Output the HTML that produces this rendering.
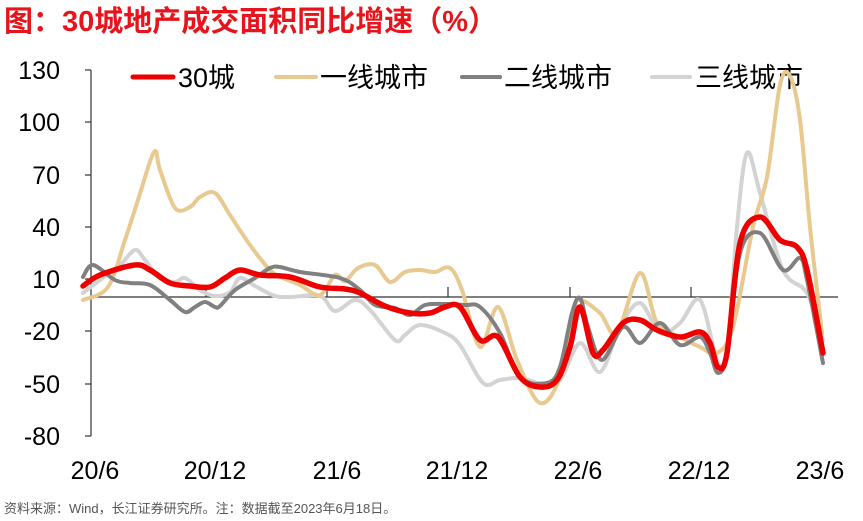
<!DOCTYPE html>
<html><head><meta charset="utf-8">
<style>
body{margin:0;width:863px;height:521px;background:#fff;overflow:hidden}
svg{display:block}
text{font-family:"Liberation Sans","Noto Sans CJK SC",sans-serif}
</style></head><body>
<svg id="s" width="863" height="521" viewBox="0 0 863 521">
<text x="4" y="31" font-size="29" font-weight="bold" fill="#e8141b">图：30城地产成交面积同比增速（%）</text>
<g font-size="25" fill="#000" text-anchor="end">
<text x="60" y="79">130</text><text x="60" y="131">100</text><text x="60" y="184">70</text>
<text x="60" y="236">40</text><text x="60" y="288">10</text><text x="60" y="340">-20</text>
<text x="60" y="393">-50</text><text x="60" y="445">-80</text>
</g>
<g stroke="#333" stroke-width="1.2">
<line x1="91" y1="70" x2="91" y2="436"/>
<line x1="91" y1="70" x2="85" y2="70"/><line x1="91" y1="122" x2="85" y2="122"/><line x1="91" y1="175" x2="85" y2="175"/><line x1="91" y1="227" x2="85" y2="227"/><line x1="91" y1="279" x2="85" y2="279"/><line x1="91" y1="331" x2="85" y2="331"/><line x1="91" y1="384" x2="85" y2="384"/><line x1="91" y1="436" x2="85" y2="436"/>
<line x1="91" y1="297" x2="838" y2="297"/>
<line x1="206" y1="297" x2="206" y2="287"/><line x1="327" y1="297" x2="327" y2="287"/><line x1="448" y1="297" x2="448" y2="287"/><line x1="570" y1="297" x2="570" y2="287"/><line x1="691" y1="297" x2="691" y2="287"/><line x1="812" y1="297" x2="812" y2="287"/>
</g>
<g font-size="25" fill="#000" text-anchor="middle">
<text x="95" y="479">20/6</text><text x="215" y="479">20/12</text><text x="337" y="479">21/6</text>
<text x="457" y="479">21/12</text><text x="578" y="479">22/6</text><text x="699" y="479">22/12</text><text x="820" y="479">23/6</text>
</g>
<g font-size="27" fill="#000">
<line x1="133" y1="77" x2="173" y2="77" stroke="#e00" stroke-width="5" stroke-linecap="round"/><text x="178" y="87">30城</text>
<line x1="276" y1="77" x2="316" y2="77" stroke="#e8c98f" stroke-width="4" stroke-linecap="round"/><text x="320" y="87">一线城市</text>
<line x1="462" y1="77" x2="500" y2="77" stroke="#808080" stroke-width="4" stroke-linecap="round"/><text x="504" y="87">二线城市</text>
<line x1="652" y1="77" x2="690" y2="77" stroke="#d3d3d3" stroke-width="4" stroke-linecap="round"/><text x="695" y="87">三线城市</text>
</g>
<g id="lines" fill="none" stroke-linejoin="round" stroke-linecap="round"></g>
<text x="4" y="513" font-size="13" fill="#555">资料来源：Wind，长江证券研究所。注：数据截至2023年6月18日。</text>
</svg>
<script>
function path(p){var d="M"+p[0][0]+","+p[0][1];for(var i=0;i<p.length-1;i++){var a=p[i-1]||p[i],b=p[i],c=p[i+1],e=p[i+2]||c;
var c1=[b[0]+(c[0]-a[0])/6,b[1]+(c[1]-a[1])/6],c2=[c[0]-(e[0]-b[0])/6,c[1]-(e[1]-b[1])/6];d+="C"+c1+" "+c2+" "+c;}return d;}
var S=[
["#d3d3d3",4,[[83,293],[100,280],[120,265],[135,250],[145,260],[160,278],[175,282],[185,278],[200,290],[215,296],[230,292],[240,278],[255,286],[275,296],[290,297],[320,296],[335,311],[355,300],[370,310],[395,340],[405,335],[420,325],[445,333],[460,345],[483,383],[500,380],[520,378],[540,383],[560,380],[580,343],[600,372],[620,327],[640,303],[660,333],[680,323],[700,300],[717,360],[727,353],[737,227],[747,153],[760,193],[783,270],[807,293],[823,340]]],
["#e8c98f",4,[[83,300],[108,287],[125,240],[138,200],[154,152],[160,170],[175,208],[190,207],[200,197],[215,193],[230,215],[250,245],[270,270],[283,278],[300,285],[320,295],[335,275],[345,281],[358,268],[375,265],[390,282],[405,272],[420,270],[435,272],[450,268],[462,290],[480,347],[498,307],[517,360],[540,403],[560,377],[573,313],[580,300],[600,313],[617,333],[640,273],[657,323],[680,337],[700,347],[717,353],[733,327],[753,227],[767,177],[780,85],[790,76],[800,120],[810,227],[822,333]]],
["#808080",4,[[83,277],[93,265],[115,280],[130,283],[150,285],[170,300],[185,312],[195,307],[205,302],[215,307],[220,306],[235,290],[255,278],[270,268],[280,267],[300,272],[340,278],[360,290],[375,305],[395,308],[410,315],[425,305],[445,304],[465,305],[480,307],[500,333],[520,377],[547,383],[560,367],[572,313],[580,298],[588,327],[602,360],[623,327],[640,343],[660,323],[680,345],[700,337],[710,353],[718,373],[727,353],[740,253],[760,233],[783,270],[800,258],[807,280],[823,363]]],
["#e00",5.5,[[83,286],[100,275],[135,265],[150,270],[170,283],[190,286],[210,287],[225,278],[240,270],[260,275],[290,277],[320,287],[345,289],[360,293],[385,306],[410,313],[430,313],[445,307],[460,307],[480,340],[498,337],[520,377],[540,387],[557,380],[570,347],[580,307],[593,353],[603,350],[623,323],[640,320],[657,330],[680,337],[700,332],[710,343],[718,367],[727,353],[740,243],[760,217],[780,240],[797,247],[807,270],[823,353]]]
];
var g=document.getElementById("lines");
S.forEach(function(s){var e=document.createElementNS("http://www.w3.org/2000/svg","path");e.setAttribute("d",path(s[2]));e.setAttribute("stroke",s[0]);e.setAttribute("stroke-width",s[1]);g.appendChild(e);});
</script>
</body></html>
